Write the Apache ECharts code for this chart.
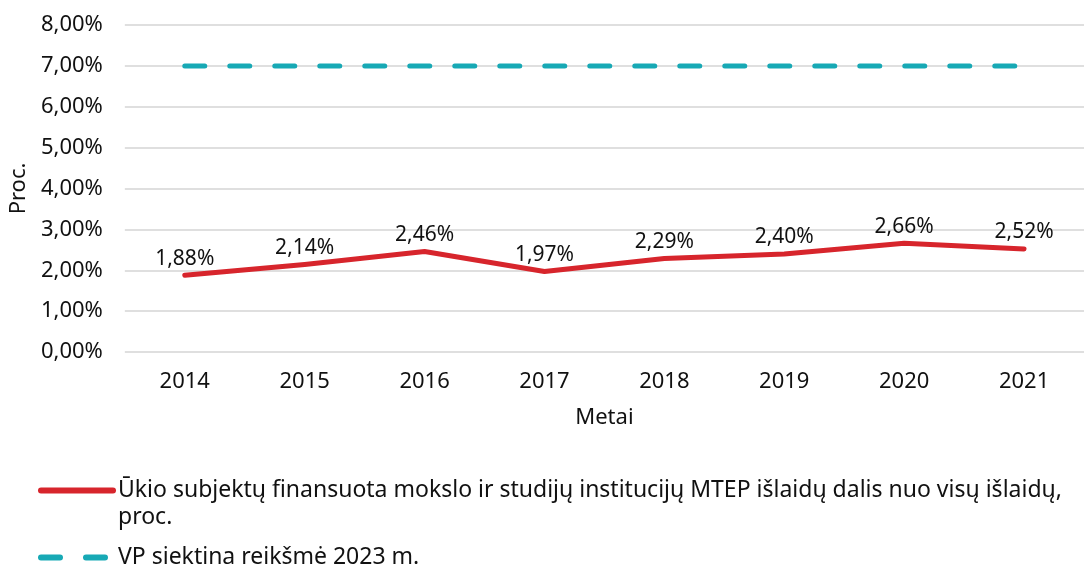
<!DOCTYPE html>
<html>
<head>
  <meta charset="utf-8" />
  <title>MTEP išlaidų dalis</title>
  <script src="https://cdn.jsdelivr.net/npm/echarts@6/dist/echarts.min.js"></script>
</head>
<body style="margin: 0; background: #ffffff">
  <div id="main" style="width: 1084px; height: 567px;"></div>
  <script type="text/javascript">
    var years = ['2014', '2015', '2016', '2017', '2018', '2019', '2020', '2021'];
    var shareValues = [1.88, 2.14, 2.46, 1.97, 2.29, 2.40, 2.66, 2.52];
    var targetValues = [7, 7, 7, 7, 7, 7, 7, 7];
    var shareName = 'Ūkio subjektų finansuota mokslo ir studijų institucijų MTEP išlaidų dalis nuo visų išlaidų,\nproc.';
    var targetName = 'VP siektina reikšmė 2023 m.';

    var FONT = '"Noto Sans", "Open Sans", sans-serif';
    var TEXT = '#111111';
    var RED = '#d7252c', TEAL = '#17a9b5';

    function pct(v) { return v.toFixed(2).replace('.', ',') + '%'; }

    var myChart = echarts.init(document.getElementById('main'));
    var option = {
      backgroundColor: '#ffffff',
      textStyle: {fontFamily: FONT, color: TEXT},
      animation: false,
      grid: {left: 122, right: -12, top: 25, bottom: 215},
      xAxis: {
        type: 'category',
        data: years,
        name: 'Metai',
        nameLocation: 'middle',
        nameGap: 55,
        nameTextStyle: {fontFamily: FONT, fontSize: 22, color: TEXT},
        axisLine: {show: false},
        axisTick: {show: false},
        axisLabel: {fontFamily: FONT, fontSize: 22, color: TEXT, margin: 19}
      },
      yAxis: {
        type: 'value',
        min: 0, max: 8, interval: 1,
        name: 'Proc.',
        nameLocation: 'middle',
        nameGap: 94,
        nameTextStyle: {fontFamily: FONT, fontSize: 22, color: TEXT},
        axisLine: {show: false},
        axisTick: {show: false},
        axisLabel: {fontFamily: FONT, fontSize: 22, color: TEXT, margin: 22, formatter: pct},
        splitLine: {lineStyle: {color: '#d4d4d4', width: 1.5}}
      },
      legend: {
        orient: 'vertical',
        left: 33,
        top: 445,
        itemWidth: 72,
        itemHeight: 14,
        itemGap: 13,
        itemStyle: {opacity: 0},
        lineStyle: {width: 6, cap: 'round'},
        textStyle: {fontFamily: FONT, fontSize: 23, color: TEXT, lineHeight: 27},
        // empty first line keeps the icon level with the first text line
        formatter: function (name) { return name === shareName ? ' \n' + name : name; },
        data: [
          {name: shareName},
          {name: targetName, lineStyle: {width: 6, type: [19, 26], cap: 'round'}}
        ]
      },
      series: [
        {
          name: shareName,
          type: 'line',
          data: shareValues,
          symbol: 'circle',
          symbolSize: 0,
          lineStyle: {color: RED, width: 5, cap: 'round', join: 'round'},
          itemStyle: {color: RED},
          label: {
            show: true, position: 'top', distance: 6,
            fontFamily: FONT, fontSize: 21, color: TEXT,
            formatter: function (p) { return pct(p.value); }
          },
          z: 3
        },
        {
          name: targetName,
          type: 'line',
          data: targetValues,
          symbol: 'none',
          lineStyle: {color: TEAL, width: 5, type: [20, 25], cap: 'round'},
          itemStyle: {color: TEAL},
          z: 2
        }
      ]
    };
    myChart.setOption(option);
  </script>
</body>
</html>
